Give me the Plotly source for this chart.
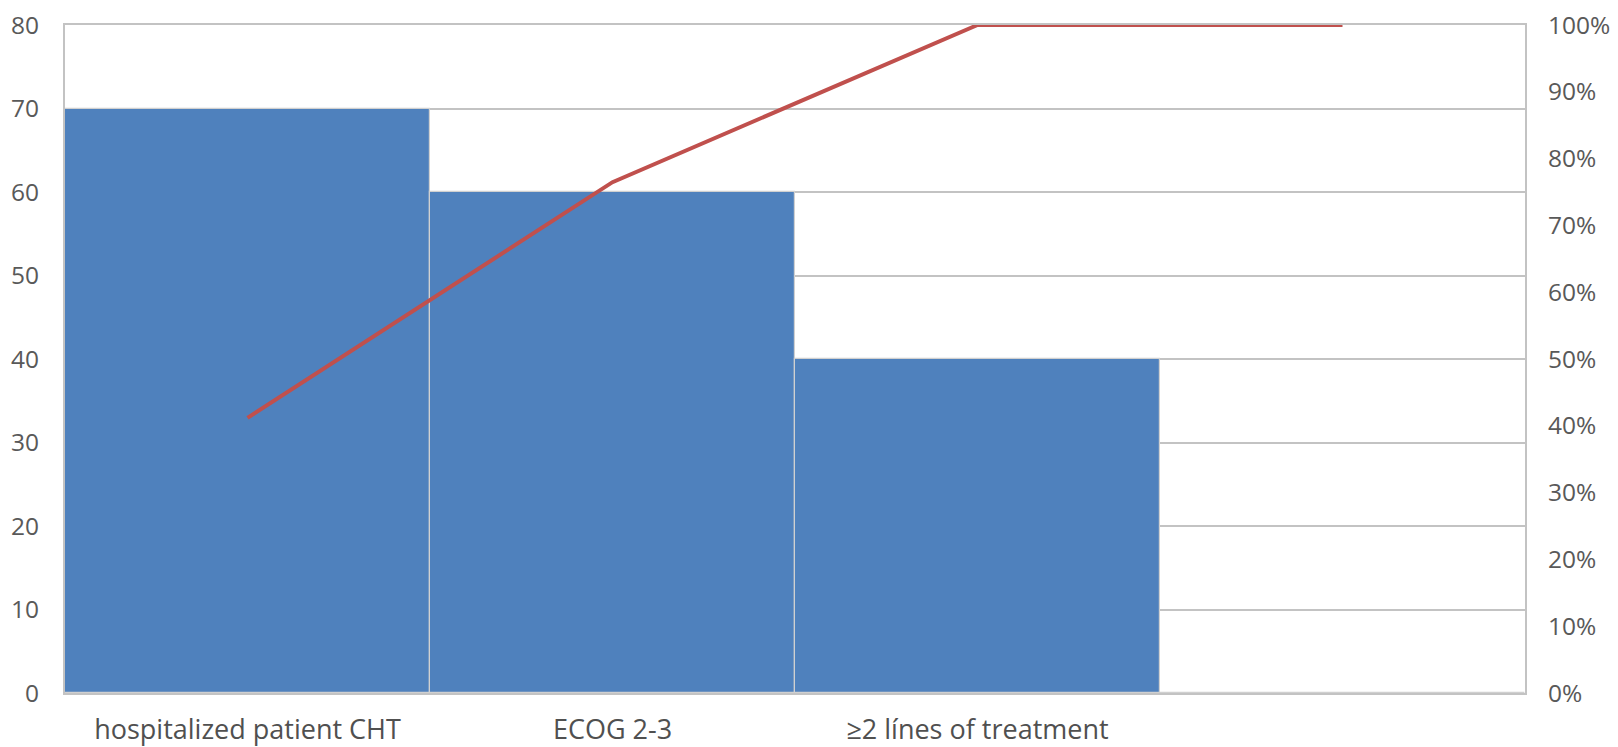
import plotly.graph_objects as go

categories = ["hospitalized patient CHT", "ECOG 2-3", "≥2 línes of treatment", ""]
counts = [70, 60, 40, 0]
cumulative_pct = [41.18, 76.47, 100, 100]
left_ticks = [0, 10, 20, 30, 40, 50, 60, 70, 80]
right_ticks = [0, 10, 20, 30, 40, 50, 60, 70, 80, 90, 100]

FONT = "Open Sans, Liberation Sans, sans-serif"
GRID = "#c3c3c3"
TXT = "#595959"

x_idx = list(range(len(categories)))

fig = go.Figure()
fig.add_trace(go.Bar(
    x=x_idx, y=counts, marker=dict(color="#4f81bd", line=dict(color="#d0d0d0", width=1.2)),
    yaxis="y", showlegend=False, hoverinfo="skip"))
fig.add_trace(go.Scatter(
    x=x_idx, y=cumulative_pct, mode="lines", line=dict(color="#c0504d", width=4),
    yaxis="y2", showlegend=False, hoverinfo="skip"))

fig.update_layout(
    width=1618, height=747,
    margin=dict(l=65, r=93, t=25, b=54),
    paper_bgcolor="white", plot_bgcolor="white",
    bargap=0,
    font=dict(family=FONT, size=24, color=TXT),
    xaxis=dict(
        range=[-0.5, 3.5], tickmode="array", tickvals=x_idx, ticktext=categories,
        showgrid=False, showline=True, linecolor=GRID, linewidth=2, mirror=True,
        ticks="", tickfont=dict(size=27, color="#505050"), ticklabelstandoff=12,
        zeroline=False, automargin=False),
    yaxis=dict(
        range=[0, 80], tickmode="array", tickvals=left_ticks,
        showgrid=True, gridcolor=GRID, gridwidth=2,
        showline=True, linecolor=GRID, linewidth=2, mirror=False,
        ticks="", ticklabelstandoff=19, zeroline=False, automargin=False,
        tickfont=dict(size=24.5, color=TXT)),
    yaxis2=dict(
        range=[0, 100], overlaying="y", side="right", tickmode="array",
        tickvals=right_ticks, ticktext=[f"{v}%" for v in right_ticks],
        showgrid=False, showline=True, linecolor=GRID, linewidth=2,
        ticks="", ticklabelstandoff=16, zeroline=False, automargin=False,
        tickfont=dict(size=24.5, color=TXT)),
)

fig.write_html("out.html", config={"displayModeBar": False},
               post_script="document.body.style.margin='0';")
